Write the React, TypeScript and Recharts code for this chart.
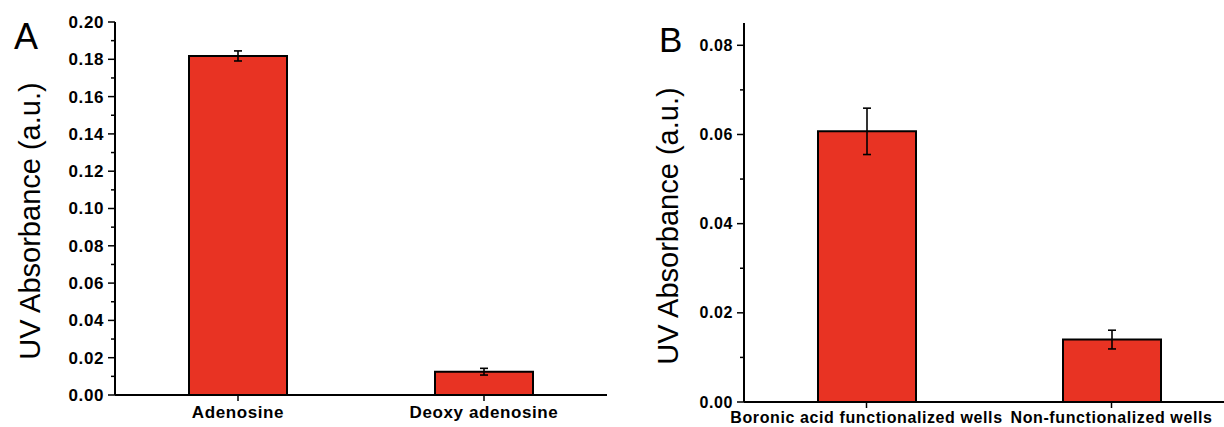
import { BarChart, Bar, XAxis, YAxis, ErrorBar } from 'recharts';

const categoriesA = ['Adenosine', 'Deoxy adenosine'];
const valuesA = [0.1818, 0.0125];
const errorsA = [0.0027, 0.0018];
const ticksA = [0, 0.01, 0.02, 0.03, 0.04, 0.05, 0.06, 0.07, 0.08, 0.09, 0.1, 0.11, 0.12, 0.13, 0.14, 0.15, 0.16, 0.17, 0.18, 0.19, 0.2];

const categoriesB = ['Boronic acid functionalized wells', 'Non-functionalized wells'];
const valuesB = [0.0607, 0.014];
const errorsB = [0.0052, 0.0021];
const ticksB = [0, 0.01, 0.02, 0.03, 0.04, 0.05, 0.06, 0.07, 0.08];

const dataA = categoriesA.map((name, i) => ({ name, value: valuesA[i], err: errorsA[i] }));
const dataB = categoriesB.map((name, i) => ({ name, value: valuesB[i], err: errorsB[i] }));

const FONT = '"Liberation Sans", Arial, Helvetica, sans-serif';
const RED = '#e83323';

const YTick = (props: any) => {
  const { x, y, payload, fs } = props;
  const major = Math.round(payload.value * 100) % 2 === 0;
  return (
    <g>
      <line x1={x} x2={x - (major ? 7 : 4)} y1={y} y2={y} stroke="#000" strokeWidth={1.5} />
      {major && (
        <text
          x={x - 11}
          y={y}
          dy={fs * 0.35}
          textAnchor="end"
          fill="#000"
          fontSize={fs}
          fontWeight="bold"
          fontFamily={FONT}
          letterSpacing={0.6}
        >
          {payload.value.toFixed(2)}
        </text>
      )}
    </g>
  );
};

const XTick = (props: any) => {
  const { x, y, payload, fs } = props;
  return (
    <text
      x={x}
      y={y}
      dy={fs * 0.75}
      textAnchor="middle"
      fill="#000"
      fontSize={fs}
      fontWeight="bold"
      fontFamily={FONT}
      letterSpacing={0.6}
    >
      {payload.value}
    </text>
  );
};

const Panel = ({ data, ticks, max, yWidth, top, xHeight, right, labelGap, fs }: any) => (
  <BarChart
    width={620}
    height={427}
    data={data}
    margin={{ top, right, bottom: 0, left: 0 }}
    barCategoryGap={0}
  >
    <XAxis
      dataKey="name"
      height={xHeight}
      axisLine={{ stroke: '#000', strokeWidth: 2 }}
      tickLine={{ stroke: '#000', strokeWidth: 1.5 }}
      tickSize={6}
      tickMargin={labelGap}
      tick={<XTick fs={fs} />}
      interval={0}
    />
    <XAxis xAxisId="top" dataKey="name" orientation="top" height={0} tick={false} tickLine={false} axisLine={{ stroke: '#000', strokeWidth: 2 }} />
    <YAxis
      domain={[0, max]}
      ticks={ticks}
      interval={0}
      width={yWidth}
      tickSize={0}
      tickMargin={0}
      tickLine={false}
      axisLine={{ stroke: '#000', strokeWidth: 2 }}
      tick={<YTick fs={fs} />}
      allowDataOverflow
    />
    <YAxis yAxisId="right" orientation="right" domain={[0, max]} width={0} tick={false} tickLine={false} axisLine={{ stroke: '#000', strokeWidth: 2 }} />
    <Bar dataKey="value" fill={RED} stroke="#000" strokeWidth={2} barSize={98} isAnimationActive={false}>
      <ErrorBar dataKey="err" width={4} stroke="#000" strokeWidth={1.6} direction="y" />
    </Bar>
  </BarChart>
);

const titleStyle: any = {
  fontFamily: FONT,
  fontSize: 29,
  fill: '#000',
};

export default function App() {
  return (
    <div
      style={{
        position: 'fixed',
        left: 0,
        top: 0,
        width: 1224,
        height: 427,
        overflow: 'hidden',
        background: '#fff',
      }}
    >
      <div style={{ position: 'absolute', left: 0, top: 0 }}>
        <Panel data={dataA} ticks={ticksA} max={0.2} yWidth={115} top={22} xHeight={32} right={13} labelGap={4} fs={17} />
      </div>
      <div style={{ position: 'absolute', left: 620, top: 0 }}>
        <Panel data={dataB} ticks={ticksB} max={0.085} yWidth={124} top={23} xHeight={25} right={6} labelGap={3} fs={16} />
      </div>
      <svg width={1224} height={427} style={{ position: 'absolute', left: 0, top: 0, pointerEvents: 'none' }}>
        <text x={14} y={49} fontFamily={FONT} fontSize={36} fill="#000">A</text>
        <text x={40} y={221} textAnchor="middle" transform="rotate(-90, 40, 221)" style={titleStyle}>
          UV Absorbance (a.u.)
        </text>
        <text x={659} y={52} fontFamily={FONT} fontSize={35} fill="#000">B</text>
        <text x={678} y={226} textAnchor="middle" transform="rotate(-90, 678, 226)" style={titleStyle}>
          UV Absorbance (a.u.)
        </text>
      </svg>
    </div>
  );
}
